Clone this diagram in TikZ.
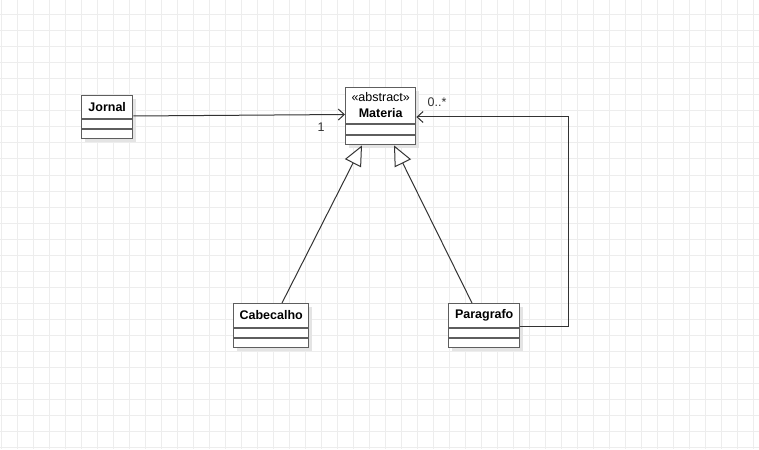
\documentclass[tikz,border=0pt]{standalone}
\usepackage{fontspec}
\setmainfont{Liberation Sans}
\usetikzlibrary{arrows.meta,calc,shadows}
\definecolor{gridc}{HTML}{EDEDED}
\definecolor{boxc}{HTML}{5E5E5E}
\definecolor{linec}{HTML}{333333}
\definecolor{shadc}{HTML}{E4E4E4}
\tikzset{
  cls/.style={draw=boxc, line width=1.4pt, fill=white, inner sep=0pt, anchor=north west,
    drop shadow={shadow xshift=3.5pt, shadow yshift=-3.5pt, fill=shadc, opacity=1}},
  divl/.style={draw=boxc, line width=1.4pt},
  nm/.style={font=\bfseries\fontsize{12.5}{14}\selectfont, inner sep=0pt},
  st/.style={font=\fontsize{12.5}{14}\selectfont, inner sep=0pt},
  lbl/.style={font=\fontsize{12.5}{14}\selectfont, inner sep=0pt, text=linec},
  assoc/.style={draw=linec, line width=1pt, -{Straight Barb[length=6pt,width=11pt,line width=1pt]}},
  gen/.style={draw=linec, line width=1pt, -{Triangle[open,length=20pt,width=18pt,fill=white,line width=1pt]}},
}
\begin{document}
\begin{tikzpicture}[x=1pt,y=-1pt]
\useasboundingbox (0,0) rectangle (759,449);
\fill[white] (0,0) rectangle (759,449);
\foreach \i in {0,...,47} {\draw[gridc, line width=1pt] (1+16*\i,0) -- (1+16*\i,449);}
\foreach \j in {0,...,28} {\draw[gridc, line width=1pt] (0,-1+16*\j) -- (759,-1+16*\j);}

% classes
\node[cls, minimum width=51pt, minimum height=43pt] (jornal) at (81,95) {};
\node[cls, minimum width=70pt, minimum height=57pt] (materia) at (345,87) {};
\node[cls, minimum width=75pt, minimum height=44pt] (cab) at (233,303) {};
\node[cls, minimum width=71pt, minimum height=44pt] (par) at (448,303) {};

\draw[divl] ($(jornal.north west)+(0,24)$) -- ($(jornal.north east)+(0,24)$);
\draw[divl] ($(jornal.north west)+(0,34)$) -- ($(jornal.north east)+(0,34)$);
\draw[divl] ($(materia.north west)+(0,37)$) -- ($(materia.north east)+(0,37)$);
\draw[divl] ($(materia.north west)+(0,48)$) -- ($(materia.north east)+(0,48)$);
\draw[divl] ($(cab.north west)+(0,25)$) -- ($(cab.north east)+(0,25)$);
\draw[divl] ($(cab.north west)+(0,35)$) -- ($(cab.north east)+(0,35)$);
\draw[divl] ($(par.north west)+(0,25)$) -- ($(par.north east)+(0,25)$);
\draw[divl] ($(par.north west)+(0,35)$) -- ($(par.north east)+(0,35)$);

\node[nm] (jornalT) at ($(jornal.north)+(0,12)$) {Jornal};
\node[st] (materiaS) at ($(materia.north)+(0,10.5)$) {«abstract»};
\node[nm] (materiaT) at ($(materia.north)+(0,26)$) {Materia};
\node[nm] (cabT) at ($(cab.north)+(0,12.5)$) {Cabecalho};
\node[nm] (parT) at ($(par.north)+(0,12.5)$) {Paragrafo};

% associations
\draw[assoc] ($(jornal.north east)+(0,21)$) -- ($(materia.north west)+(0,27.5)$);
\node[lbl] (one) at (321,127) {1};
\coordinate (bend1) at (568,326);
\coordinate (bend2) at (568,117);
\draw[assoc] ($(par.north east)+(0,23)$) -- (bend1) -- (bend2) -- ($(materia.north east)+(0,30)$);
\node[lbl] (many) at (437,102) {0..*};

% generalizations
\draw[gen] ($(cab.north west)+(49,0)$) -- ($(materia.south west)+(17,0)$);
\draw[gen] ($(par.north west)+(24,0)$) -- ($(materia.south west)+(49,0)$);
\end{tikzpicture}
\end{document}
